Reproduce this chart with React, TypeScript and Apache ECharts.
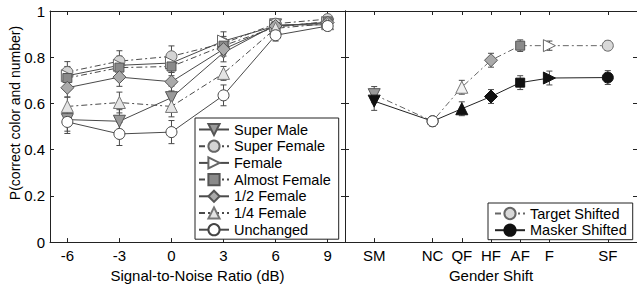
import React, { useEffect, useRef } from "react";
import * as echarts from "echarts";

const snr = [-6, -3, 0, 3, 6, 9];
const snrTicks = [-6, -3, 0, 3, 6, 9];

const superMale = [0.53, 0.523, 0.625, 0.82, 0.94, 0.94];
const superFemale = [0.736, 0.783, 0.804, 0.86, 0.945, 0.965];
const female = [0.72, 0.765, 0.775, 0.87, 0.935, 0.95];
const almostFemale = [0.71, 0.755, 0.76, 0.85, 0.93, 0.955];
const halfFemale = [0.668, 0.714, 0.694, 0.835, 0.935, 0.95];
const quarterFemale = [0.587, 0.604, 0.587, 0.73, 0.925, 0.945];
const unchanged = [0.52, 0.468, 0.476, 0.635, 0.895, 0.935];

const errSuperMale = [0.05, 0.05, 0.05, 0.04, 0.02, 0.02];
const errSuperFemale = [0.045, 0.045, 0.045, 0.03, 0.02, 0.02];
const errFemale = [0.04, 0.04, 0.04, 0.04, 0.02, 0.02];
const errAlmostFemale = [0.04, 0.04, 0.04, 0.03, 0.02, 0.02];
const errHalfFemale = [0.04, 0.04, 0.04, 0.03, 0.02, 0.02];
const errQuarterFemale = [0.04, 0.045, 0.045, 0.03, 0.02, 0.02];
const errUnchanged = [0.05, 0.05, 0.05, 0.045, 0.025, 0.02];

const shiftCats = ["SM", "NC", "QF", "HF", "AF", "F", "SF"];
const shiftPos = [0, 2, 3, 4, 5, 6, 8];
const targetShifted = [0.638, 0.523, 0.67, 0.787, 0.85, 0.85, 0.85];
const maskerShifted = [0.61, 0.523, 0.577, 0.63, 0.69, 0.71, 0.712];
const errTarget = [0.035, 0.02, 0.03, 0.03, 0.025, 0.02, 0.02];
const errMasker = [0.04, 0.02, 0.03, 0.03, 0.03, 0.03, 0.03];

const yLabel = "P(correct color and number)";
const FONT = "Liberation Sans, Arial, Helvetica, sans-serif";
const LINE = "#4a4a4a";
const DASH = [6, 3, 2, 3];

type Sym = { symbol: string; rotate: number; fill: string; stroke: string; size: number };
const DOWN = (fill: string, stroke = "#555"): Sym => ({ symbol: "triangle", rotate: 180, fill, stroke, size: 12 });
const UP = (fill: string, stroke = "#666"): Sym => ({ symbol: "triangle", rotate: 0, fill, stroke, size: 12 });
const RIGHT = (fill: string, stroke = "#666"): Sym => ({ symbol: "triangle", rotate: -90, fill, stroke, size: 12 });
const CIRC = (fill: string, stroke = "#555"): Sym => ({ symbol: "circle", rotate: 0, fill, stroke, size: 11 });
const SQ = (fill: string, stroke = "#555"): Sym => ({ symbol: "rect", rotate: 0, fill, stroke, size: 9 });
const DIA = (fill: string, stroke = "#555"): Sym => ({ symbol: "diamond", rotate: 0, fill, stroke, size: 13 });

const leftSeries = [
  { name: "Super Male", vals: superMale, err: errSuperMale, sym: DOWN("#9a9a9a"), dash: false },
  { name: "Super Female", vals: superFemale, err: errSuperFemale, sym: CIRC("#d4d4d4", "#666"), dash: true },
  { name: "Female", vals: female, err: errFemale, sym: RIGHT("#ffffff"), dash: false },
  { name: "Almost Female", vals: almostFemale, err: errAlmostFemale, sym: SQ("#8a8a8a"), dash: true },
  { name: "1/2 Female", vals: halfFemale, err: errHalfFemale, sym: DIA("#aaaaaa"), dash: false },
  { name: "1/4 Female", vals: quarterFemale, err: errQuarterFemale, sym: UP("#e4e4e4", "#777"), dash: true },
  { name: "Unchanged", vals: unchanged, err: errUnchanged, sym: CIRC("#ffffff", "#444"), dash: false },
];

const targetSyms: Sym[] = [
  DOWN("#9a9a9a"),
  CIRC("#ffffff", "#444"),
  UP("#f2f2f2", "#777"),
  DIA("#aaaaaa"),
  SQ("#8a8a8a"),
  RIGHT("#ffffff"),
  CIRC("#d8d8d8", "#666"),
];
const maskerSyms: Sym[] = [
  DOWN("#111", "#111"),
  CIRC("#ffffff", "#444"),
  UP("#111", "#111"),
  DIA("#111", "#111"),
  SQ("#111", "#111"),
  RIGHT("#111", "#111"),
  CIRC("#111", "#111"),
];

function errRender(params: any, api: any) {
  const x = api.value(0);
  const y = api.value(1);
  const e = api.value(2);
  const top = api.coord([x, y + e]);
  const bot = api.coord([x, y - e]);
  const hw = 3;
  const st = { stroke: LINE, lineWidth: 1 };
  return {
    type: "group",
    children: [
      { type: "line", shape: { x1: top[0], y1: top[1], x2: bot[0], y2: bot[1] }, style: st },
      { type: "line", shape: { x1: top[0] - hw, y1: top[1], x2: top[0] + hw, y2: top[1] }, style: st },
      { type: "line", shape: { x1: bot[0] - hw, y1: bot[1], x2: bot[0] + hw, y2: bot[1] }, style: st },
    ],
  };
}

export default function App() {
  const ref = useRef<HTMLDivElement>(null);
  useEffect(() => {
    if (!ref.current) return;
    const chart = echarts.init(ref.current, undefined, { renderer: "svg" });

    const axisLine = { show: true, onZero: false, lineStyle: { color: "#222", width: 1 } };
    const tickIn = (vals?: number[]) => ({
      show: true,
      inside: true,
      length: 4,
      lineStyle: { color: "#222" },
      ...(vals ? { customValues: vals } : {}),
    });
    const labelStyle = { color: "#000", fontSize: 15, fontFamily: FONT };

    const xAxes: any[] = [
      {
        gridIndex: 0, type: "value", min: -7, max: 10, position: "bottom",
        axisLine, axisTick: tickIn(snrTicks), splitLine: { show: false },
        axisLabel: { ...labelStyle, margin: 6, customValues: snrTicks },
        name: "Signal-to-Noise Ratio (dB)", nameLocation: "middle", nameGap: 23,
        nameTextStyle: labelStyle,
      },
      {
        gridIndex: 0, type: "value", min: -7, max: 10, position: "top",
        axisLine, axisTick: tickIn(snrTicks), splitLine: { show: false },
        axisLabel: { show: false },
      },
      {
        gridIndex: 1, type: "value", min: -1, max: 9, position: "bottom",
        axisLine, axisTick: tickIn(shiftPos), splitLine: { show: false },
        axisLabel: {
          ...labelStyle, margin: 6, customValues: shiftPos,
          formatter: (v: number) => shiftCats[shiftPos.indexOf(v)] ?? "",
        },
        name: "Gender Shift", nameLocation: "middle", nameGap: 23,
        nameTextStyle: labelStyle,
      },
      {
        gridIndex: 1, type: "value", min: -1, max: 9, position: "top",
        axisLine, axisTick: tickIn(shiftPos), splitLine: { show: false },
        axisLabel: { show: false },
      },
    ];
    const yAxes: any[] = [
      {
        gridIndex: 0, type: "value", min: 0, max: 1, interval: 0.2, position: "left",
        axisLine, axisTick: tickIn(), splitLine: { show: false },
        axisLabel: { ...labelStyle, margin: 5 },
      },
      {
        gridIndex: 0, type: "value", min: 0, max: 1, interval: 0.2, position: "right",
        axisLine, axisTick: tickIn(), splitLine: { show: false }, axisLabel: { show: false },
      },
      {
        gridIndex: 1, type: "value", min: 0, max: 1, interval: 0.2, position: "left",
        axisLine, axisTick: tickIn(), splitLine: { show: false }, axisLabel: { show: false },
      },
      {
        gridIndex: 1, type: "value", min: 0, max: 1, interval: 0.2, position: "right",
        axisLine, axisTick: tickIn(), splitLine: { show: false }, axisLabel: { show: false },
      },
    ];

    const series: any[] = [];
    leftSeries.forEach((s) => {
      series.push({
        type: "custom",
        name: s.name + " err",
        xAxisIndex: 0, yAxisIndex: 0,
        renderItem: errRender,
        data: snr.map((x, i) => [x, s.vals[i], s.err[i]]),
        encode: { x: 0, y: 1 },
        silent: true,
        z: 1,
      });
    });
    leftSeries.forEach((s) => {
      series.push({
        type: "line",
        name: s.name,
        xAxisIndex: 0, yAxisIndex: 0,
        data: snr.map((x, i) => [x, s.vals[i]]),
        symbol: s.sym.symbol,
        symbolRotate: s.sym.rotate,
        symbolSize: s.sym.size,
        showAllSymbol: true,
        lineStyle: { color: LINE, width: 1, type: s.dash ? DASH : "solid" },
        itemStyle: { color: s.sym.fill, borderColor: s.sym.stroke, borderWidth: 1 },
        z: 3,
      });
    });

    const rightDefs = [
      { name: "Target Shifted", vals: targetShifted, err: errTarget, syms: targetSyms, dash: true, legendSym: CIRC("#d8d8d8", "#666") },
      { name: "Masker Shifted", vals: maskerShifted, err: errMasker, syms: maskerSyms, dash: false, legendSym: CIRC("#111", "#111") },
    ];
    rightDefs.forEach((s) => {
      series.push({
        type: "custom",
        name: s.name + " err",
        xAxisIndex: 2, yAxisIndex: 2,
        renderItem: errRender,
        data: shiftPos.map((x, i) => [x, s.vals[i], s.err[i]]),
        encode: { x: 0, y: 1 },
        silent: true,
        z: 1,
      });
    });
    rightDefs.forEach((s, k) => {
      series.push({
        type: "line",
        name: s.name,
        xAxisIndex: 2, yAxisIndex: 2,
        symbol: s.legendSym.symbol,
        symbolSize: s.legendSym.size,
        showAllSymbol: true,
        lineStyle: { color: k === 0 ? "#666" : "#222", width: 1, type: s.dash ? DASH : "solid" },
        itemStyle: { color: s.legendSym.fill, borderColor: s.legendSym.stroke, borderWidth: 1 },
        data: shiftPos.map((x, i) => ({
          value: [x, s.vals[i]],
          symbol: s.syms[i].symbol,
          symbolRotate: s.syms[i].rotate,
          symbolSize: s.syms[i].size,
          itemStyle: { color: s.syms[i].fill, borderColor: s.syms[i].stroke, borderWidth: 1 },
        })),
        z: k === 0 ? 3 : 4,
      });
    });

    const legendCommon = {
      orient: "vertical",
      backgroundColor: "#fff",
      borderColor: "#222",
      borderWidth: 1,
      borderRadius: 0,
      itemWidth: 30,
      itemHeight: 14,
      itemGap: 1.7,
      textStyle: { color: "#000", fontSize: 14.5, fontFamily: FONT },
      selectedMode: false,
    };

    chart.setOption({
      animation: false,
      backgroundColor: "#fff",
      textStyle: { fontFamily: FONT },
      grid: [
        { left: 50, top: 11, width: 295, height: 233, show: false },
        { left: 345, top: 11, width: 292, height: 233, show: false },
      ],
      xAxis: xAxes,
      yAxis: yAxes,
      legend: [
        {
          ...legendCommon,
          left: 195, top: 118,
          padding: [4, 8, 2, 3],
          data: leftSeries.map((s) => s.name),
        },
        {
          ...legendCommon,
          left: 488, top: 203,
          padding: [3, 6, 2, 6],
          data: rightDefs.map((s) => s.name),
        },
      ],
      graphic: [
        {
          type: "text",
          x: 15, y: 113,
          rotation: Math.PI / 2,
          style: {
            text: yLabel,
            font: `14px ${FONT}`,
            fill: "#000",
            align: "center",
            verticalAlign: "middle",
          },
        },
      ],
      series,
    });
    return () => chart.dispose();
  }, []);
  return (
    <div
      ref={ref}
      style={{ position: "fixed", left: 0, top: 0, width: 637, height: 288, background: "#fff" }}
    />
  );
}
